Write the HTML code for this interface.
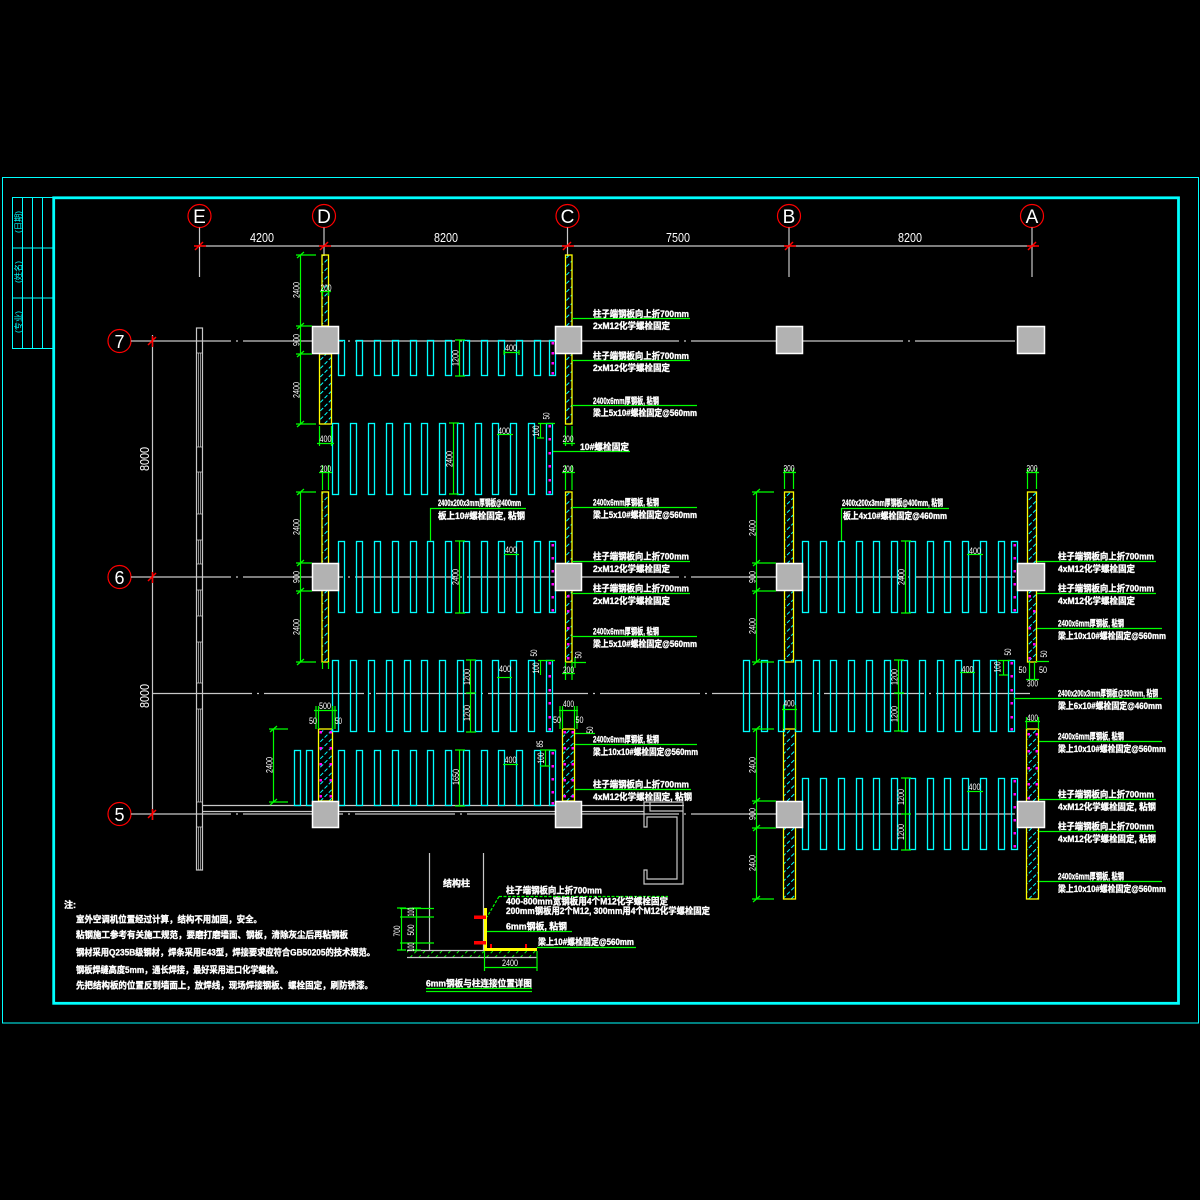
<!DOCTYPE html>
<html><head><meta charset="utf-8"><style>
html,body{margin:0;padding:0;background:#000;}
svg{display:block}
text{font-family:"Liberation Sans","Noto Sans CJK SC",sans-serif;fill:#fff}
.t{font-size:9px;font-weight:bold;stroke:#fff;stroke-width:0.35}
.d{font-size:9px}
.s{fill:none;stroke:#00ffff;stroke-width:1.3}
.p{fill:url(#h);stroke:#ffff00;stroke-width:1.3}
.c{fill:#b2b2b2;stroke:#fff;stroke-width:1.5}
.g{stroke:#00ff00;stroke-width:1.2;fill:none}
.w{stroke:#c8c8c8;stroke-width:1.2;fill:none}
.m{fill:#ff00ff}
.r{stroke:#ff0000;stroke-width:1.5;fill:none}
</style></head><body>
<svg width="1200" height="1200" viewBox="0 0 1200 1200" xmlns="http://www.w3.org/2000/svg">
<defs>
<pattern id="h" width="6" height="6" patternUnits="userSpaceOnUse" patternTransform="rotate(45)">
<line x1="1" y1="0" x2="1" y2="6" stroke="#00ffff" stroke-width="1" stroke-dasharray="4 2"/>
</pattern>
<pattern id="gh" width="6" height="6" patternUnits="userSpaceOnUse" patternTransform="rotate(45)">
<line x1="1" y1="0" x2="1" y2="6" stroke="#00ff00" stroke-width="1" stroke-dasharray="3 3"/>
</pattern>
</defs>
<rect width="1200" height="1200" fill="#000"/>

<!-- frames -->
<rect x="2.5" y="177.5" width="1196" height="845.5" fill="none" stroke="#00ffff" stroke-width="1"/>
<rect x="53.7" y="197.8" width="1124.8" height="805.5" fill="none" stroke="#00ffff" stroke-width="2.8"/>
<!-- title block -->
<g stroke="#00ffff" stroke-width="1" fill="none">
<rect x="12.5" y="197.5" width="41" height="151"/>
<line x1="22.5" y1="197.5" x2="22.5" y2="348.5"/>
<line x1="32.5" y1="197.5" x2="32.5" y2="348.5"/>
<line x1="42.5" y1="197.5" x2="42.5" y2="348.5"/>
<line x1="12.5" y1="248" x2="53.5" y2="248"/>
<line x1="12.5" y1="298" x2="53.5" y2="298"/>
</g>
<g style="font-size:8px;fill:#00ffff">
<text transform="translate(21,222) rotate(-90)" text-anchor="middle" style="fill:#00ffff" textLength="22" lengthAdjust="spacingAndGlyphs">(日期)</text>
<text transform="translate(21,272) rotate(-90)" text-anchor="middle" style="fill:#00ffff" textLength="22" lengthAdjust="spacingAndGlyphs">(姓名)</text>
<text transform="translate(21,322) rotate(-90)" text-anchor="middle" style="fill:#00ffff" textLength="22" lengthAdjust="spacingAndGlyphs">(专业)</text>
</g>

<!-- grid bubbles -->
<g fill="none" stroke="#ff0000" stroke-width="1.2">
<circle cx="199.5" cy="216" r="11.5"/><circle cx="324" cy="216" r="11.5"/><circle cx="567.5" cy="216" r="11.5"/><circle cx="789" cy="216" r="11.5"/><circle cx="1032" cy="216" r="11.5"/>
<circle cx="119.5" cy="341" r="11.5"/><circle cx="119.5" cy="577" r="11.5"/><circle cx="119.5" cy="814" r="11.5"/>
</g>
<g style="font-family:'Liberation Serif',serif;font-size:19px" text-anchor="middle">
<text x="199.5" y="223">E</text><text x="324" y="223">D</text><text x="567.5" y="223">C</text><text x="789" y="223">B</text><text x="1032" y="223">A</text>
<text x="119.5" y="348" style="font-family:'Liberation Sans',sans-serif;font-size:18px">7</text>
<text x="119.5" y="584" style="font-family:'Liberation Sans',sans-serif;font-size:18px">6</text>
<text x="119.5" y="821" style="font-family:'Liberation Sans',sans-serif;font-size:18px">5</text>
</g>

<!-- grid lines -->
<g class="w">
<line x1="197" y1="246" x2="1035" y2="246"/>
<line x1="199.5" y1="227.5" x2="199.5" y2="277"/>
<line x1="324" y1="227.5" x2="324" y2="256"/>
<line x1="567.5" y1="227.5" x2="567.5" y2="256"/>
<line x1="789" y1="227.5" x2="789" y2="277"/>
<line x1="1032" y1="227.5" x2="1032" y2="277"/>
<line x1="152.5" y1="335" x2="152.5" y2="820"/>
<line x1="131" y1="341" x2="1018" y2="341" stroke-dasharray="100 5 2 5"/>
<line x1="131" y1="577" x2="1018" y2="577" stroke-dasharray="100 5 2 5"/>
<line x1="131" y1="814" x2="1018" y2="814" stroke-dasharray="100 5 2 5"/>
<line x1="152" y1="693.5" x2="1030" y2="693.5" stroke-dasharray="100 5 2 5"/>
<line x1="203" y1="805.5" x2="684" y2="805.5"/>
<line x1="203" y1="811.5" x2="644" y2="811.5"/>
<!-- left wall -->
<rect x="196.5" y="328" width="6" height="542"/>
<path d="M196.5 353H202.5M196.5 447H202.5M196.5 472H202.5M196.5 514H202.5M196.5 540H202.5M196.5 564H202.5M196.5 590H202.5M196.5 616H202.5M196.5 642H202.5M196.5 683H202.5M196.5 709H202.5M196.5 802H202.5M196.5 827H202.5" stroke-width="0.8"/>
<path d="M198.5 353V447M200.5 353V447M198.5 472V514M200.5 472V514M198.5 540V564M200.5 540V564M198.5 590V616M200.5 590V616M198.5 642V683M200.5 642V683M198.5 709V802M200.5 709V802M198.5 827V870M200.5 827V870" stroke-width="0.7"/>
<!-- channel shape -->
<path d="M644 802V827H647V817H677V879H647V870H644V884H683V802Z"/>
<path d="M650 802V811H683"/>
<!-- detail structure lines -->
<line x1="429.5" y1="853" x2="429.5" y2="950"/>
<line x1="483.5" y1="853" x2="483.5" y2="950"/>
</g>

<!-- red ticks -->
<g class="r">
<path d="M195 250L203 242M194 246H206M320 250L328 242M319 246H331M563 250L571 242M562 246H574M785 250L793 242M784 246H796M1028 250L1036 242M1027 246H1039"/>
<path d="M148 345L156 337M152.5 336V347M148 581L156 573M152.5 572V583M148 818L156 810M152.5 809V820"/>
</g>

<!-- dimension texts grid -->
<g style="font-size:13px" text-anchor="middle">
<text x="262" y="242" textLength="24" lengthAdjust="spacingAndGlyphs">4200</text>
<text x="446" y="242" textLength="24" lengthAdjust="spacingAndGlyphs">8200</text>
<text x="678" y="242" textLength="24" lengthAdjust="spacingAndGlyphs">7500</text>
<text x="910" y="242" textLength="24" lengthAdjust="spacingAndGlyphs">8200</text>
<text transform="translate(149,459) rotate(-90)" textLength="24" lengthAdjust="spacingAndGlyphs">8000</text>
<text transform="translate(149,696) rotate(-90)" textLength="24" lengthAdjust="spacingAndGlyphs">8000</text>
</g>

<!-- hatched panels -->
<rect class="p" x="322" y="255" width="6.5" height="71"/>
<rect class="p" x="319.5" y="354" width="12" height="70"/>
<rect class="p" x="565.5" y="255" width="6.5" height="169"/>
<rect class="p" x="322" y="492" width="6.5" height="170"/>
<rect class="p" x="565.5" y="492" width="6.5" height="170"/>
<rect class="p" x="318.5" y="729" width="14" height="72"/>
<rect class="p" x="562.5" y="729" width="12" height="72"/>
<rect class="p" x="784.5" y="492" width="9" height="170"/>
<rect class="p" x="1027.5" y="492" width="9" height="170"/>
<rect class="p" x="783.5" y="729" width="12" height="170"/>
<rect class="p" x="1026.5" y="729" width="12" height="170"/>

<!-- slats -->
<g>
<!-- set A -->
<rect class="s" x="338.5" y="340.5" width="6" height="35"/><rect class="s" x="356.5" y="340.5" width="6" height="35"/><rect class="s" x="374.5" y="340.5" width="6" height="35"/><rect class="s" x="392.5" y="340.5" width="6" height="35"/><rect class="s" x="410.5" y="340.5" width="6" height="35"/><rect class="s" x="427.5" y="340.5" width="6" height="35"/><rect class="s" x="445.5" y="340.5" width="6" height="35"/><rect class="s" x="463.5" y="340.5" width="6" height="35"/><rect class="s" x="481.5" y="340.5" width="6" height="35"/><rect class="s" x="498.5" y="340.5" width="6" height="35"/><rect class="s" x="516.5" y="340.5" width="6" height="35"/><rect class="s" x="534.5" y="340.5" width="6" height="35"/><rect class="s" x="549.5" y="340.5" width="6" height="35"/>
<!-- set B -->
<rect class="s" x="332.5" y="423.5" width="6" height="71"/><rect class="s" x="350.5" y="423.5" width="6" height="71"/><rect class="s" x="368.5" y="423.5" width="6" height="71"/><rect class="s" x="386.5" y="423.5" width="6" height="71"/><rect class="s" x="404.5" y="423.5" width="6" height="71"/><rect class="s" x="421.5" y="423.5" width="6" height="71"/><rect class="s" x="439.5" y="423.5" width="6" height="71"/><rect class="s" x="457.5" y="423.5" width="6" height="71"/><rect class="s" x="475.5" y="423.5" width="6" height="71"/><rect class="s" x="492.5" y="423.5" width="6" height="71"/><rect class="s" x="510.5" y="423.5" width="6" height="71"/><rect class="s" x="528.5" y="423.5" width="6" height="71"/><rect class="s" x="546.5" y="423.5" width="6" height="71"/>
<!-- set C -->
<rect class="s" x="338.5" y="541.5" width="6" height="71"/><rect class="s" x="356.5" y="541.5" width="6" height="71"/><rect class="s" x="374.5" y="541.5" width="6" height="71"/><rect class="s" x="392.5" y="541.5" width="6" height="71"/><rect class="s" x="410.5" y="541.5" width="6" height="71"/><rect class="s" x="427.5" y="541.5" width="6" height="71"/><rect class="s" x="445.5" y="541.5" width="6" height="71"/><rect class="s" x="463.5" y="541.5" width="6" height="71"/><rect class="s" x="481.5" y="541.5" width="6" height="71"/><rect class="s" x="498.5" y="541.5" width="6" height="71"/><rect class="s" x="516.5" y="541.5" width="6" height="71"/><rect class="s" x="534.5" y="541.5" width="6" height="71"/><rect class="s" x="549.5" y="541.5" width="6" height="71"/>
<!-- set D -->
<rect class="s" x="332.5" y="660.5" width="6" height="71"/><rect class="s" x="350.5" y="660.5" width="6" height="71"/><rect class="s" x="368.5" y="660.5" width="6" height="71"/><rect class="s" x="386.5" y="660.5" width="6" height="71"/><rect class="s" x="404.5" y="660.5" width="6" height="71"/><rect class="s" x="421.5" y="660.5" width="6" height="71"/><rect class="s" x="439.5" y="660.5" width="6" height="71"/><rect class="s" x="457.5" y="660.5" width="6" height="71"/><rect class="s" x="475.5" y="660.5" width="6" height="71"/><rect class="s" x="492.5" y="660.5" width="6" height="71"/><rect class="s" x="510.5" y="660.5" width="6" height="71"/><rect class="s" x="528.5" y="660.5" width="6" height="71"/><rect class="s" x="546.5" y="660.5" width="6" height="71"/>
<!-- set E -->
<rect class="s" x="294.5" y="750.5" width="6" height="55"/><rect class="s" x="306.5" y="750.5" width="6" height="55"/>
<rect class="s" x="338.5" y="750.5" width="6" height="55"/><rect class="s" x="356.5" y="750.5" width="6" height="55"/><rect class="s" x="374.5" y="750.5" width="6" height="55"/><rect class="s" x="392.5" y="750.5" width="6" height="55"/><rect class="s" x="410.5" y="750.5" width="6" height="55"/><rect class="s" x="427.5" y="750.5" width="6" height="55"/><rect class="s" x="445.5" y="750.5" width="6" height="55"/><rect class="s" x="463.5" y="750.5" width="6" height="55"/><rect class="s" x="481.5" y="750.5" width="6" height="55"/><rect class="s" x="498.5" y="750.5" width="6" height="55"/><rect class="s" x="516.5" y="750.5" width="6" height="55"/><rect class="s" x="534.5" y="750.5" width="6" height="55"/><rect class="s" x="549.5" y="750.5" width="6" height="55"/>
<!-- set F -->
<rect class="s" x="802.5" y="541.5" width="6" height="71"/><rect class="s" x="820.5" y="541.5" width="6" height="71"/><rect class="s" x="838.5" y="541.5" width="6" height="71"/><rect class="s" x="856.5" y="541.5" width="6" height="71"/><rect class="s" x="873.5" y="541.5" width="6" height="71"/><rect class="s" x="891.5" y="541.5" width="6" height="71"/><rect class="s" x="909.5" y="541.5" width="6" height="71"/><rect class="s" x="927.5" y="541.5" width="6" height="71"/><rect class="s" x="944.5" y="541.5" width="6" height="71"/><rect class="s" x="962.5" y="541.5" width="6" height="71"/><rect class="s" x="980.5" y="541.5" width="6" height="71"/><rect class="s" x="998.5" y="541.5" width="6" height="71"/><rect class="s" x="1011.5" y="541.5" width="6" height="71"/>
<!-- set G -->
<rect class="s" x="743.5" y="660.5" width="6" height="71"/><rect class="s" x="761.5" y="660.5" width="6" height="71"/><rect class="s" x="778.5" y="660.5" width="6" height="71"/><rect class="s" x="795.5" y="660.5" width="6" height="71"/><rect class="s" x="813.5" y="660.5" width="6" height="71"/><rect class="s" x="830.5" y="660.5" width="6" height="71"/><rect class="s" x="848.5" y="660.5" width="6" height="71"/><rect class="s" x="866.5" y="660.5" width="6" height="71"/><rect class="s" x="884.5" y="660.5" width="6" height="71"/><rect class="s" x="901.5" y="660.5" width="6" height="71"/><rect class="s" x="919.5" y="660.5" width="6" height="71"/><rect class="s" x="937.5" y="660.5" width="6" height="71"/><rect class="s" x="955.5" y="660.5" width="6" height="71"/><rect class="s" x="973.5" y="660.5" width="6" height="71"/><rect class="s" x="990.5" y="660.5" width="6" height="71"/><rect class="s" x="1008.5" y="660.5" width="6" height="71"/>
<!-- set H -->
<rect class="s" x="802.5" y="778.5" width="6" height="71"/><rect class="s" x="820.5" y="778.5" width="6" height="71"/><rect class="s" x="838.5" y="778.5" width="6" height="71"/><rect class="s" x="856.5" y="778.5" width="6" height="71"/><rect class="s" x="873.5" y="778.5" width="6" height="71"/><rect class="s" x="891.5" y="778.5" width="6" height="71"/><rect class="s" x="909.5" y="778.5" width="6" height="71"/><rect class="s" x="927.5" y="778.5" width="6" height="71"/><rect class="s" x="944.5" y="778.5" width="6" height="71"/><rect class="s" x="962.5" y="778.5" width="6" height="71"/><rect class="s" x="980.5" y="778.5" width="6" height="71"/><rect class="s" x="998.5" y="778.5" width="6" height="71"/><rect class="s" x="1011.5" y="778.5" width="6" height="71"/>
</g>

<!-- magenta dots -->
<g class="m">
<rect x="551.5" y="342" width="2.5" height="2.5"/><rect x="551.5" y="352" width="2.5" height="2.5"/><rect x="551.5" y="362" width="2.5" height="2.5"/><rect x="551.5" y="372" width="2.5" height="2.5"/>
<rect x="548.5" y="425" width="2.5" height="2.5"/><rect x="548.5" y="438" width="2.5" height="2.5"/><rect x="548.5" y="452" width="2.5" height="2.5"/><rect x="548.5" y="465" width="2.5" height="2.5"/><rect x="548.5" y="479" width="2.5" height="2.5"/><rect x="548.5" y="491" width="2.5" height="2.5"/>
<rect x="551.5" y="544" width="2.5" height="2.5"/><rect x="551.5" y="557" width="2.5" height="2.5"/><rect x="551.5" y="570" width="2.5" height="2.5"/><rect x="551.5" y="583" width="2.5" height="2.5"/><rect x="551.5" y="596" width="2.5" height="2.5"/><rect x="551.5" y="609" width="2.5" height="2.5"/>
<rect x="548.5" y="662" width="2.5" height="2.5"/><rect x="548.5" y="675" width="2.5" height="2.5"/><rect x="548.5" y="689" width="2.5" height="2.5"/><rect x="548.5" y="702" width="2.5" height="2.5"/><rect x="548.5" y="716" width="2.5" height="2.5"/><rect x="548.5" y="728" width="2.5" height="2.5"/>
<rect x="551.5" y="752" width="2.5" height="2.5"/><rect x="551.5" y="765" width="2.5" height="2.5"/><rect x="551.5" y="778" width="2.5" height="2.5"/><rect x="551.5" y="791" width="2.5" height="2.5"/><rect x="551.5" y="802" width="2.5" height="2.5"/>
<rect x="1013.5" y="544" width="2.5" height="2.5"/><rect x="1013.5" y="557" width="2.5" height="2.5"/><rect x="1013.5" y="570" width="2.5" height="2.5"/><rect x="1013.5" y="583" width="2.5" height="2.5"/><rect x="1013.5" y="596" width="2.5" height="2.5"/><rect x="1013.5" y="609" width="2.5" height="2.5"/>
<rect x="1010.5" y="662" width="2.5" height="2.5"/><rect x="1010.5" y="675" width="2.5" height="2.5"/><rect x="1010.5" y="689" width="2.5" height="2.5"/><rect x="1010.5" y="702" width="2.5" height="2.5"/><rect x="1010.5" y="716" width="2.5" height="2.5"/><rect x="1010.5" y="728" width="2.5" height="2.5"/>
<rect x="1013.5" y="780" width="2.5" height="2.5"/><rect x="1013.5" y="793" width="2.5" height="2.5"/><rect x="1013.5" y="806" width="2.5" height="2.5"/><rect x="1013.5" y="819" width="2.5" height="2.5"/><rect x="1013.5" y="832" width="2.5" height="2.5"/><rect x="1013.5" y="845" width="2.5" height="2.5"/>
<!-- panel dots -->
<rect x="319.5" y="731" width="2.5" height="2.5"/><rect x="329.5" y="731" width="2.5" height="2.5"/><rect x="319.5" y="747" width="2.5" height="2.5"/><rect x="329.5" y="747" width="2.5" height="2.5"/><rect x="319.5" y="763" width="2.5" height="2.5"/><rect x="329.5" y="763" width="2.5" height="2.5"/><rect x="319.5" y="779" width="2.5" height="2.5"/><rect x="329.5" y="779" width="2.5" height="2.5"/><rect x="319.5" y="795" width="2.5" height="2.5"/><rect x="329.5" y="795" width="2.5" height="2.5"/>
<rect x="563.5" y="731" width="2.5" height="2.5"/><rect x="571.5" y="731" width="2.5" height="2.5"/><rect x="563.5" y="747" width="2.5" height="2.5"/><rect x="571.5" y="747" width="2.5" height="2.5"/><rect x="563.5" y="763" width="2.5" height="2.5"/><rect x="571.5" y="763" width="2.5" height="2.5"/><rect x="563.5" y="779" width="2.5" height="2.5"/><rect x="571.5" y="779" width="2.5" height="2.5"/><rect x="563.5" y="795" width="2.5" height="2.5"/><rect x="571.5" y="795" width="2.5" height="2.5"/>
<rect x="567" y="595" width="2.5" height="2.5"/><rect x="567" y="610" width="2.5" height="2.5"/><rect x="567" y="627" width="2.5" height="2.5"/><rect x="567" y="643" width="2.5" height="2.5"/><rect x="567" y="657" width="2.5" height="2.5"/>
<rect x="1028.5" y="595" width="2.5" height="2.5"/><rect x="1033" y="610" width="2.5" height="2.5"/><rect x="1028.5" y="627" width="2.5" height="2.5"/><rect x="1033" y="643" width="2.5" height="2.5"/><rect x="1028.5" y="657" width="2.5" height="2.5"/>
<rect x="1027.5" y="733" width="2.5" height="2.5"/><rect x="1035.5" y="733" width="2.5" height="2.5"/><rect x="1027.5" y="750" width="2.5" height="2.5"/><rect x="1035.5" y="750" width="2.5" height="2.5"/><rect x="1027.5" y="767" width="2.5" height="2.5"/><rect x="1035.5" y="767" width="2.5" height="2.5"/><rect x="1027.5" y="783" width="2.5" height="2.5"/><rect x="1035.5" y="783" width="2.5" height="2.5"/><rect x="1027.5" y="797" width="2.5" height="2.5"/>
</g>

<!-- columns -->
<g class="c">
<rect x="312.5" y="326.5" width="26" height="27"/><rect x="555.5" y="326.5" width="26" height="27"/><rect x="776.5" y="326.5" width="26" height="27"/><rect x="1017.5" y="326.5" width="27" height="27"/>
<rect x="312.5" y="563.5" width="26" height="27"/><rect x="555.5" y="563.5" width="26" height="27"/><rect x="776.5" y="563.5" width="26" height="27"/><rect x="1017.5" y="563.5" width="27" height="27"/>
<rect x="312.5" y="801.5" width="26" height="26"/><rect x="555.5" y="801.5" width="26" height="26"/><rect x="776.5" y="801.5" width="26" height="26"/><rect x="1017.5" y="801.5" width="27" height="26"/>
</g>

<!-- green dimension lines -->
<g class="g">
<path d="M300.5 255V424M296 255H316M296 326H312M296 354H312M296 424H316M297 258L304 252M297 329L304 323M297 357L304 351M297 427L304 421"/>
<path d="M300.5 492V662M296 492H316M296 563H312M296 591H312M296 662H316M297 495L304 489M297 566L304 560M297 594L304 588M297 665L304 659"/>
<path d="M273.5 729V802M269 729H288M269 802H288M270 732L277 726M270 805L277 799"/>
<path d="M756.5 492V662M752 492H774M752 563H776M752 591H776M752 662H774M753 495L760 489M753 566L760 560M753 594L760 588M753 665L760 659"/>
<path d="M756.5 729V899M752 729H774M752 801H776M752 828H776M752 899H774M753 732L760 726M753 804L760 798M753 831L760 825M753 902L760 896"/>
<path d="M459.5 340V376M455 340H465M455 376H465"/>
<path d="M504 352.5H519M504 350V355M519 350V355"/>
<path d="M453.5 423V494M449 423H459M449 494H459"/>
<path d="M497 434.5H513"/>
<path d="M538 423.5H555M540.5 423V438M537 438H544"/>
<path d="M459.5 541V613M455 541H465M455 613H465"/>
<path d="M504 554.5H519"/>
<path d="M470.5 660V732M466 660H476M466 693H476M466 732H476"/>
<path d="M497 677.5H512"/>
<path d="M538 660.5H555M540.5 660V675"/>
<path d="M459.5 750V806M455 750H465M455 806H465"/>
<path d="M503 764.5H518"/>
<path d="M545.5 750V766M540 750H556M540 766H550"/>
<path d="M905.5 541V613M901 541H911M901 613H911"/>
<path d="M967 554.5H983"/>
<path d="M898.5 660V731M894 660H904M894 693H904M894 731H904"/>
<path d="M960 672.5H975"/>
<path d="M1003.5 660V675M998 660.5H1010M999 675H1008"/>
<path d="M905.5 778V850M901 778H911M901 814H911M901 850H911"/>
<path d="M967 791.5H983"/>
<path d="M320 291.5H331M322.5 287V296M328.5 287V296"/>
<path d="M317 443.5H334M319.5 426V446M331.5 426V446"/>
<path d="M319 472.5H332M322.5 465V490M328.5 465V490"/>
<path d="M563 443.5H575M565.5 426V446M572 426V446"/>
<path d="M562 472.5H575M565.5 465V490M572 465V490"/>
<path d="M562 673.5H575M565.5 662V680M572 662V680"/>
<path d="M572 662.5H586M575 657V668"/>
<path d="M322.5 662V669M328.5 662V669"/>
<path d="M314 710.5H337M318.5 706V729M332.5 706V729M316 706V729M335 706V729"/>
<path d="M559 710.5H578M562.5 706V729M574.5 706V729M560 706V729M577 706V729"/>
<path d="M575 733.5H595"/>
<path d="M783 472.5H796M784.5 468V489M793.5 468V489"/>
<path d="M1026 472.5H1039M1027.5 468V489M1036.5 468V489"/>
<path d="M1036 661.5H1049M1029.5 662V679M1034.5 662V679M1026 679.5H1039"/>
<path d="M782 709.5H797M783.5 705V729M795.5 705V729"/>
<path d="M1025 721.5H1040M1026.5 717V729M1038.5 717V729"/>
<path d="M572 318.5H690M572 360.5H690M572 405.5H697M553 451.5H630"/>
<path d="M572 507.5H697M572 561.5H690M572 593.5H690M572 636.5H697"/>
<path d="M430.5 541V508.5H526"/>
<path d="M575 744.5H697M575 789.5H691"/>
<path d="M841.5 541V508.5H949"/>
<path d="M1037 561.5H1156M1037 593.5H1156M1037 628.5H1162M1014 698.5H1162"/>
<path d="M1039 741.5H1162M1039 799.5H1156M1039 831.5H1156M1039 881.5H1162"/>
</g>

<!-- dim labels -->
<g class="d">
<text transform="translate(299.5,290) rotate(-90)" text-anchor="middle" textLength="16" lengthAdjust="spacingAndGlyphs">2400</text>
<text transform="translate(299.5,340) rotate(-90)" text-anchor="middle" textLength="12" lengthAdjust="spacingAndGlyphs">900</text>
<text transform="translate(299.5,390) rotate(-90)" text-anchor="middle" textLength="16" lengthAdjust="spacingAndGlyphs">2400</text>
<text transform="translate(299.5,527) rotate(-90)" text-anchor="middle" textLength="16" lengthAdjust="spacingAndGlyphs">2400</text>
<text transform="translate(299.5,577) rotate(-90)" text-anchor="middle" textLength="12" lengthAdjust="spacingAndGlyphs">900</text>
<text transform="translate(299.5,627) rotate(-90)" text-anchor="middle" textLength="16" lengthAdjust="spacingAndGlyphs">2400</text>
<text transform="translate(272.5,765) rotate(-90)" text-anchor="middle" textLength="16" lengthAdjust="spacingAndGlyphs">2400</text>
<text transform="translate(755.5,528) rotate(-90)" text-anchor="middle" textLength="16" lengthAdjust="spacingAndGlyphs">2400</text>
<text transform="translate(755.5,577) rotate(-90)" text-anchor="middle" textLength="12" lengthAdjust="spacingAndGlyphs">900</text>
<text transform="translate(755.5,626) rotate(-90)" text-anchor="middle" textLength="16" lengthAdjust="spacingAndGlyphs">2400</text>
<text transform="translate(755.5,765) rotate(-90)" text-anchor="middle" textLength="16" lengthAdjust="spacingAndGlyphs">2400</text>
<text transform="translate(755.5,814) rotate(-90)" text-anchor="middle" textLength="12" lengthAdjust="spacingAndGlyphs">900</text>
<text transform="translate(755.5,863) rotate(-90)" text-anchor="middle" textLength="16" lengthAdjust="spacingAndGlyphs">2400</text>
<text transform="translate(458.5,358) rotate(-90)" text-anchor="middle" textLength="16" lengthAdjust="spacingAndGlyphs">1200</text>
<text transform="translate(452.5,459) rotate(-90)" text-anchor="middle" textLength="16" lengthAdjust="spacingAndGlyphs">2400</text>
<text transform="translate(458.5,577) rotate(-90)" text-anchor="middle" textLength="16" lengthAdjust="spacingAndGlyphs">2400</text>
<text transform="translate(470,677) rotate(-90)" text-anchor="middle" textLength="16" lengthAdjust="spacingAndGlyphs">1200</text>
<text transform="translate(470,713) rotate(-90)" text-anchor="middle" textLength="16" lengthAdjust="spacingAndGlyphs">1200</text>
<text transform="translate(459,777) rotate(-90)" text-anchor="middle" textLength="16" lengthAdjust="spacingAndGlyphs">1650</text>
<text transform="translate(904.5,577) rotate(-90)" text-anchor="middle" textLength="16" lengthAdjust="spacingAndGlyphs">2400</text>
<text transform="translate(897.5,677) rotate(-90)" text-anchor="middle" textLength="16" lengthAdjust="spacingAndGlyphs">1200</text>
<text transform="translate(897.5,714) rotate(-90)" text-anchor="middle" textLength="16" lengthAdjust="spacingAndGlyphs">1200</text>
<text transform="translate(904,797) rotate(-90)" text-anchor="middle" textLength="16" lengthAdjust="spacingAndGlyphs">1200</text>
<text transform="translate(904,832) rotate(-90)" text-anchor="middle" textLength="16" lengthAdjust="spacingAndGlyphs">1200</text>
<text transform="translate(549.5,416) rotate(-90)" text-anchor="middle" textLength="7" lengthAdjust="spacingAndGlyphs">50</text>
<text transform="translate(539,431) rotate(-90)" text-anchor="middle" textLength="11" lengthAdjust="spacingAndGlyphs">100</text>
<text transform="translate(581.5,655) rotate(-90)" text-anchor="middle" textLength="7" lengthAdjust="spacingAndGlyphs">50</text>
<text transform="translate(537,653) rotate(-90)" text-anchor="middle" textLength="7" lengthAdjust="spacingAndGlyphs">50</text>
<text transform="translate(539,668) rotate(-90)" text-anchor="middle" textLength="11" lengthAdjust="spacingAndGlyphs">100</text>
<text transform="translate(593,730) rotate(-90)" text-anchor="middle" textLength="7" lengthAdjust="spacingAndGlyphs">50</text>
<text transform="translate(543,744) rotate(-90)" text-anchor="middle" textLength="7" lengthAdjust="spacingAndGlyphs">85</text>
<text transform="translate(544,758) rotate(-90)" text-anchor="middle" textLength="11" lengthAdjust="spacingAndGlyphs">100</text>
<text transform="translate(1011,652) rotate(-90)" text-anchor="middle" textLength="7" lengthAdjust="spacingAndGlyphs">50</text>
<text transform="translate(1000.5,667) rotate(-90)" text-anchor="middle" textLength="11" lengthAdjust="spacingAndGlyphs">100</text>
<text transform="translate(1047,654) rotate(-90)" text-anchor="middle" textLength="7" lengthAdjust="spacingAndGlyphs">50</text>
<g text-anchor="middle">
<text x="326" y="291" textLength="11" lengthAdjust="spacingAndGlyphs">200</text>
<text x="511" y="351" textLength="12" lengthAdjust="spacingAndGlyphs">400</text>
<text x="325.5" y="442" textLength="12" lengthAdjust="spacingAndGlyphs">400</text>
<text x="325.5" y="472" textLength="11" lengthAdjust="spacingAndGlyphs">200</text>
<text x="568" y="442" textLength="11" lengthAdjust="spacingAndGlyphs">200</text>
<text x="568" y="472" textLength="11" lengthAdjust="spacingAndGlyphs">200</text>
<text x="504" y="434" textLength="12" lengthAdjust="spacingAndGlyphs">400</text>
<text x="511" y="553" textLength="12" lengthAdjust="spacingAndGlyphs">400</text>
<text x="505" y="672" textLength="12" lengthAdjust="spacingAndGlyphs">400</text>
<text x="568.5" y="673" textLength="11" lengthAdjust="spacingAndGlyphs">200</text>
<text x="325" y="709" textLength="12" lengthAdjust="spacingAndGlyphs">500</text>
<text x="313" y="724" textLength="8" lengthAdjust="spacingAndGlyphs">50</text>
<text x="338.5" y="724" textLength="7" lengthAdjust="spacingAndGlyphs">50</text>
<text x="568.5" y="707" textLength="11" lengthAdjust="spacingAndGlyphs">400</text>
<text x="557" y="723" textLength="8" lengthAdjust="spacingAndGlyphs">50</text>
<text x="579.5" y="723" textLength="8" lengthAdjust="spacingAndGlyphs">50</text>
<text x="510.5" y="763" textLength="12" lengthAdjust="spacingAndGlyphs">400</text>
<text x="789" y="471.5" textLength="11" lengthAdjust="spacingAndGlyphs">300</text>
<text x="1032" y="471.5" textLength="11" lengthAdjust="spacingAndGlyphs">300</text>
<text x="975" y="554" textLength="12" lengthAdjust="spacingAndGlyphs">400</text>
<text x="967.5" y="672.5" textLength="12" lengthAdjust="spacingAndGlyphs">400</text>
<text x="789" y="706.5" textLength="11" lengthAdjust="spacingAndGlyphs">400</text>
<text x="1022.5" y="673" textLength="8" lengthAdjust="spacingAndGlyphs">50</text>
<text x="1043" y="673" textLength="8" lengthAdjust="spacingAndGlyphs">50</text>
<text x="1032.5" y="686.5" textLength="11" lengthAdjust="spacingAndGlyphs">300</text>
<text x="1032.5" y="721" textLength="11" lengthAdjust="spacingAndGlyphs">400</text>
<text x="974.5" y="790" textLength="12" lengthAdjust="spacingAndGlyphs">400</text>
</g>
</g>

<!-- callout texts -->
<g class="t">
<text x="593" y="317" textLength="96" lengthAdjust="spacingAndGlyphs">柱子端钢板向上折700mm</text>
<text x="593" y="329" textLength="77" lengthAdjust="spacingAndGlyphs">2xM12化学螺栓固定</text>
<text x="593" y="359" textLength="96" lengthAdjust="spacingAndGlyphs">柱子端钢板向上折700mm</text>
<text x="593" y="371" textLength="77" lengthAdjust="spacingAndGlyphs">2xM12化学螺栓固定</text>
<text x="593" y="404" textLength="66" lengthAdjust="spacingAndGlyphs">2400x6mm厚钢板, 粘钢</text>
<text x="593" y="416" textLength="104" lengthAdjust="spacingAndGlyphs">梁上5x10#螺栓固定@560mm</text>
<text x="580" y="450" textLength="49" lengthAdjust="spacingAndGlyphs">10#螺栓固定</text>

<text x="438" y="506" textLength="83" lengthAdjust="spacingAndGlyphs">2400x200x3mm厚钢板@400mm</text>
<text x="438" y="519" textLength="87" lengthAdjust="spacingAndGlyphs">板上10#螺栓固定, 粘钢</text>
<text x="593" y="505.5" textLength="66" lengthAdjust="spacingAndGlyphs">2400x6mm厚钢板, 粘钢</text>
<text x="593" y="518" textLength="104" lengthAdjust="spacingAndGlyphs">梁上5x10#螺栓固定@560mm</text>
<text x="593" y="559.5" textLength="96" lengthAdjust="spacingAndGlyphs">柱子端钢板向上折700mm</text>
<text x="593" y="572" textLength="77" lengthAdjust="spacingAndGlyphs">2xM12化学螺栓固定</text>
<text x="593" y="591.5" textLength="96" lengthAdjust="spacingAndGlyphs">柱子端钢板向上折700mm</text>
<text x="593" y="604" textLength="77" lengthAdjust="spacingAndGlyphs">2xM12化学螺栓固定</text>
<text x="593" y="634.5" textLength="66" lengthAdjust="spacingAndGlyphs">2400x6mm厚钢板, 粘钢</text>
<text x="593" y="647" textLength="104" lengthAdjust="spacingAndGlyphs">梁上5x10#螺栓固定@560mm</text>

<text x="593" y="742.5" textLength="66" lengthAdjust="spacingAndGlyphs">2400x6mm厚钢板, 粘钢</text>
<text x="593" y="755" textLength="105" lengthAdjust="spacingAndGlyphs">梁上10x10#螺栓固定@560mm</text>
<text x="593" y="787.5" textLength="96" lengthAdjust="spacingAndGlyphs">柱子端钢板向上折700mm</text>
<text x="593" y="800" textLength="99" lengthAdjust="spacingAndGlyphs">4xM12化学螺栓固定, 粘钢</text>

<text x="842" y="506" textLength="101" lengthAdjust="spacingAndGlyphs">2400x200x3mm厚钢板@400mm, 粘钢</text>
<text x="843" y="519" textLength="104" lengthAdjust="spacingAndGlyphs">板上4x10#螺栓固定@460mm</text>

<text x="1058" y="559.5" textLength="96" lengthAdjust="spacingAndGlyphs">柱子端钢板向上折700mm</text>
<text x="1058" y="572" textLength="77" lengthAdjust="spacingAndGlyphs">4xM12化学螺栓固定</text>
<text x="1058" y="591.5" textLength="96" lengthAdjust="spacingAndGlyphs">柱子端钢板向上折700mm</text>
<text x="1058" y="604" textLength="77" lengthAdjust="spacingAndGlyphs">4xM12化学螺栓固定</text>
<text x="1058" y="626.5" textLength="66" lengthAdjust="spacingAndGlyphs">2400x6mm厚钢板, 粘钢</text>
<text x="1058" y="639" textLength="108" lengthAdjust="spacingAndGlyphs">梁上10x10#螺栓固定@560mm</text>
<text x="1058" y="696.5" textLength="100" lengthAdjust="spacingAndGlyphs">2400x200x3mm厚钢板@330mm, 粘钢</text>
<text x="1058" y="709" textLength="104" lengthAdjust="spacingAndGlyphs">梁上6x10#螺栓固定@460mm</text>
<text x="1058" y="739.5" textLength="66" lengthAdjust="spacingAndGlyphs">2400x6mm厚钢板, 粘钢</text>
<text x="1058" y="752" textLength="108" lengthAdjust="spacingAndGlyphs">梁上10x10#螺栓固定@560mm</text>
<text x="1058" y="797.5" textLength="96" lengthAdjust="spacingAndGlyphs">柱子端钢板向上折700mm</text>
<text x="1058" y="810" textLength="98" lengthAdjust="spacingAndGlyphs">4xM12化学螺栓固定, 粘钢</text>
<text x="1058" y="829.5" textLength="96" lengthAdjust="spacingAndGlyphs">柱子端钢板向上折700mm</text>
<text x="1058" y="842" textLength="98" lengthAdjust="spacingAndGlyphs">4xM12化学螺栓固定, 粘钢</text>
<text x="1058" y="879.5" textLength="66" lengthAdjust="spacingAndGlyphs">2400x6mm厚钢板, 粘钢</text>
<text x="1058" y="892" textLength="108" lengthAdjust="spacingAndGlyphs">梁上10x10#螺栓固定@560mm</text>
</g>

<!-- notes -->
<g class="t">
<text x="64" y="908" textLength="12" lengthAdjust="spacingAndGlyphs">注:</text>
<text x="76" y="922.5" textLength="186" lengthAdjust="spacingAndGlyphs">室外空调机位置经过计算，结构不用加固，安全。</text>
<text x="76" y="938" textLength="272" lengthAdjust="spacingAndGlyphs">粘钢施工参考有关施工规范，要磨打磨墙面、钢板，清除灰尘后再粘钢板</text>
<text x="76" y="955.5" textLength="299" lengthAdjust="spacingAndGlyphs">钢材采用Q235B级钢材，焊条采用E43型，焊接要求应符合GB50205的技术规范。</text>
<text x="76" y="973" textLength="207" lengthAdjust="spacingAndGlyphs">钢板焊缝高度5mm，通长焊接，最好采用进口化学螺栓。</text>
<text x="76" y="988.5" textLength="297" lengthAdjust="spacingAndGlyphs">先把结构板的位置反到墙面上，放焊线，现场焊接钢板、螺栓固定，刷防锈漆。</text>
</g>

<!-- detail -->
<rect x="407" y="950" width="130" height="7.5" fill="url(#gh)"/>
<g class="g">
<path d="M407 950.5H485M407 957.5H537" stroke="#c8c8c8"/>
<path d="M401.5 908V950M397 908H406M397 950H406"/>
<path d="M416.5 908V950M400 908.5H434M400 917H434M400 943H434M412 908H421M412 917H421M412 943H421M412 950H421"/>
<path d="M484.5 951V971M537 951V971M484 967.5H537"/>
<path d="M499 896.5H668M499 896.5L487 917" stroke-dasharray="3 1.5"/>
<path d="M487 931.5H572M537 947.5H636"/>
<path d="M426 988.5H532M426 991.5H532" stroke-width="1.3"/>
</g>
<rect x="484" y="908" width="3" height="43" fill="#ffff00"/>
<rect x="484" y="948" width="53" height="3" fill="#ffff00"/>
<rect x="474" y="915.5" width="12" height="3.5" fill="#ff0000"/>
<rect x="474" y="941" width="12" height="3.5" fill="#ff0000"/>
<rect x="490" y="944" width="2" height="4" fill="#ff0000"/>
<rect x="525" y="944" width="2" height="4" fill="#ff0000"/>
<g class="d">
<text transform="translate(400,931) rotate(-90)" text-anchor="middle" textLength="11" lengthAdjust="spacingAndGlyphs">700</text>
<text transform="translate(414,912) rotate(-90)" text-anchor="middle" textLength="9" lengthAdjust="spacingAndGlyphs">100</text>
<text transform="translate(414,930) rotate(-90)" text-anchor="middle" textLength="11" lengthAdjust="spacingAndGlyphs">500</text>
<text transform="translate(414,947) rotate(-90)" text-anchor="middle" textLength="9" lengthAdjust="spacingAndGlyphs">100</text>
<text x="510" y="966" text-anchor="middle" textLength="16" lengthAdjust="spacingAndGlyphs">2400</text>
</g>
<g class="t">
<text x="443" y="886.5" textLength="27" lengthAdjust="spacingAndGlyphs">结构柱</text>
<text x="506" y="893.5" textLength="96" lengthAdjust="spacingAndGlyphs">柱子端钢板向上折700mm</text>
<text x="506" y="904.5" textLength="162" lengthAdjust="spacingAndGlyphs">400-800mm宽钢板用4个M12化学螺栓固定</text>
<text x="506" y="914" textLength="204" lengthAdjust="spacingAndGlyphs">200mm钢板用2个M12, 300mm用4个M12化学螺栓固定</text>
<text x="506" y="929.5" textLength="61" lengthAdjust="spacingAndGlyphs">6mm钢板, 粘钢</text>
<text x="538" y="945" textLength="96" lengthAdjust="spacingAndGlyphs">梁上10#螺栓固定@560mm</text>
<text x="426" y="986.5" textLength="106" lengthAdjust="spacingAndGlyphs">6mm钢板与柱连接位置详图</text>
</g>
</svg>
</body></html>
